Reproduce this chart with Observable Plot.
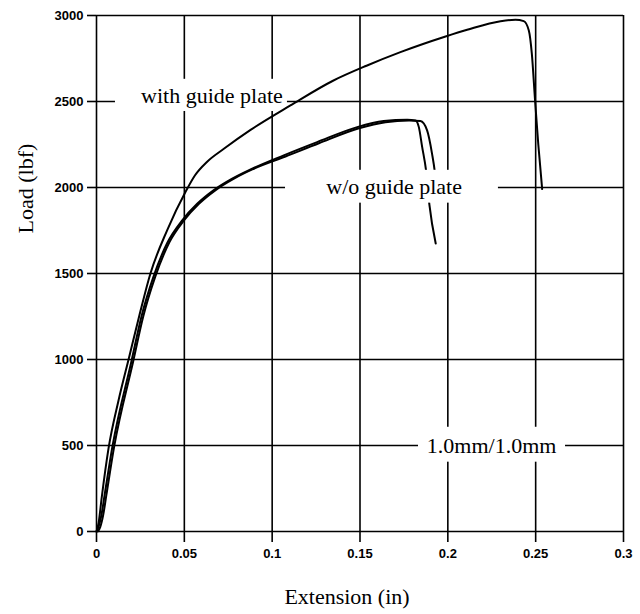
<!DOCTYPE html>
<html><head><meta charset="utf-8">
<script src="https://cdn.jsdelivr.net/npm/d3@7"></script>
<script src="https://cdn.jsdelivr.net/npm/@observablehq/plot@0.6"></script>
<style>body{margin:0;background:#fff}</style>
</head><body><div id="chart"></div>
<script>
// Tick values
const xTicks = [0, 0.05, 0.1, 0.15, 0.2, 0.25, 0.3];
const yTicks = [0, 500, 1000, 1500, 2000, 2500, 3000];

// With guide plate specimen
const withGuideX = [0, 0.0012, 0.003, 0.0068, 0.0125, 0.0185, 0.0245, 0.0307, 0.0402, 0.0507, 0.056, 0.063, 0.0725, 0.0877, 0.1104, 0.1349, 0.1537, 0.173, 0.1987, 0.211, 0.23, 0.2385, 0.2432, 0.2461, 0.2478, 0.2497, 0.2515, 0.2537];
const withGuideY = [0, 50, 200, 480, 760, 1010, 1260, 1500, 1751, 1975, 2070, 2150, 2225, 2335, 2477, 2622, 2708, 2787, 2878, 2917, 2967, 2975, 2967, 2913, 2780, 2500, 2250, 1991];

// Without guide plate specimens
const woGuide1X = [0, 0.0011, 0.0028, 0.0046, 0.0091, 0.0199, 0.0256, 0.0324, 0.0404, 0.0488, 0.0573, 0.0668, 0.077, 0.0877, 0.1066, 0.1256, 0.1484, 0.1635, 0.1769, 0.1816, 0.1835, 0.1854, 0.1876, 0.1895, 0.1931];
const woGuide1Y = [0, 25, 95, 211, 496, 990, 1250, 1480, 1680, 1809, 1905, 1985, 2050, 2105, 2187, 2264, 2351, 2386, 2394, 2390, 2351, 2235, 2099, 1900, 1674];
const woGuide2X = [0.0008, 0.0021, 0.0038, 0.0056, 0.0101, 0.0209, 0.0266, 0.0334, 0.0414, 0.0498, 0.0583, 0.0678, 0.078, 0.0887, 0.1076, 0.1266, 0.1494, 0.1645, 0.1779, 0.1844, 0.1882, 0.191, 0.1926, 0.1935];
const woGuide2Y = [0, 25, 95, 211, 496, 990, 1250, 1480, 1680, 1809, 1905, 1985, 2050, 2105, 2180, 2257, 2344, 2380, 2390, 2386, 2332, 2197, 2090, 2000];

// Annotation labels
const labelText = ["with guide plate", "w/o guide plate", "1.0mm/1.0mm"];
const labelX = [0.0657, 0.1694, 0.2249];
const labelY = [2530, 2005, 497];
// white boxes behind labels (x1, x2, y1, y2)
const boxX1 = [0.0108, 0.1076, 0.1833];
const boxX2 = [0.1087, 0.2288, 0.267];
const boxY1 = [2442, 1909, 403];
const boxY2 = [2629, 2100, 606];

const xLabel = "Extension (in)";
const yLabel = "Load (lbf)";

const seriesList = [
  {name: "with guide plate", xs: withGuideX, ys: withGuideY},
  {name: "w/o guide plate 1", xs: woGuide1X, ys: woGuide1Y},
  {name: "w/o guide plate 2", xs: woGuide2X, ys: woGuide2Y}
];
const curves = seriesList.flatMap(s => s.xs.map((x, i) => ({series: s.name, x, y: s.ys[i]})));
const labels = labelText.map((t, i) => ({text: t, x: labelX[i], y: labelY[i]}));
const boxes = labelText.map((t, i) => ({text: t, x1: boxX1[i], x2: boxX2[i], y1: boxY1[i], y2: boxY2[i]}));

const serif = "Liberation Serif, Times New Roman, serif";

const chart = Plot.plot({
  width: 640,
  height: 614,
  marginLeft: 96,
  marginRight: 17,
  marginTop: 15,
  marginBottom: 83,
  style: {fontFamily: "Liberation Sans, Arial, sans-serif", fontSize: "13px", fontWeight: "bold", color: "black", background: "white"},
  x: {domain: [0, 0.3]},
  y: {domain: [0, 3000]},
  marks: [
    Plot.ruleX(xTicks, {stroke: "black", strokeWidth: 1.6}),
    Plot.ruleY(yTicks, {stroke: "black", strokeWidth: 1.6}),
    Plot.rect(boxes.filter(b => b.text !== "w/o guide plate"), {x1: "x1", x2: "x2", y1: "y1", y2: "y2", fill: "white"}),
    Plot.line(curves, {x: "x", y: "y", z: "series", stroke: "black", strokeWidth: 2, curve: "monotone-x"}),
    Plot.rect(boxes.filter(b => b.text === "w/o guide plate"), {x1: "x1", x2: "x2", y1: "y1", y2: "y2", fill: "white"}),
    Plot.text(labels, {x: "x", y: "y", text: "text", fontFamily: serif, fontSize: 22, fontWeight: "normal", fill: "black"}),
    Plot.axisX({ticks: xTicks, tickSize: 11, tickPadding: 6, tickFormat: d => String(d), label: null, strokeWidth: 1.6}),
    Plot.axisY({ticks: yTicks, tickSize: 9, tickPadding: 4, tickFormat: d => String(d), label: null, strokeWidth: 1.6}),
    Plot.text([yLabel], {text: d => d, frameAnchor: "left", dx: -71, dy: -40, rotate: -90, fontFamily: serif, fontSize: 22, fontWeight: "normal", fill: "black"}),
    Plot.text([xLabel], {text: d => d, frameAnchor: "bottom", dx: -13, dy: 72, fontFamily: serif, fontSize: 22, fontWeight: "normal", fill: "black"})
  ]
});
document.getElementById("chart").appendChild(chart);
</script>
</body></html>
